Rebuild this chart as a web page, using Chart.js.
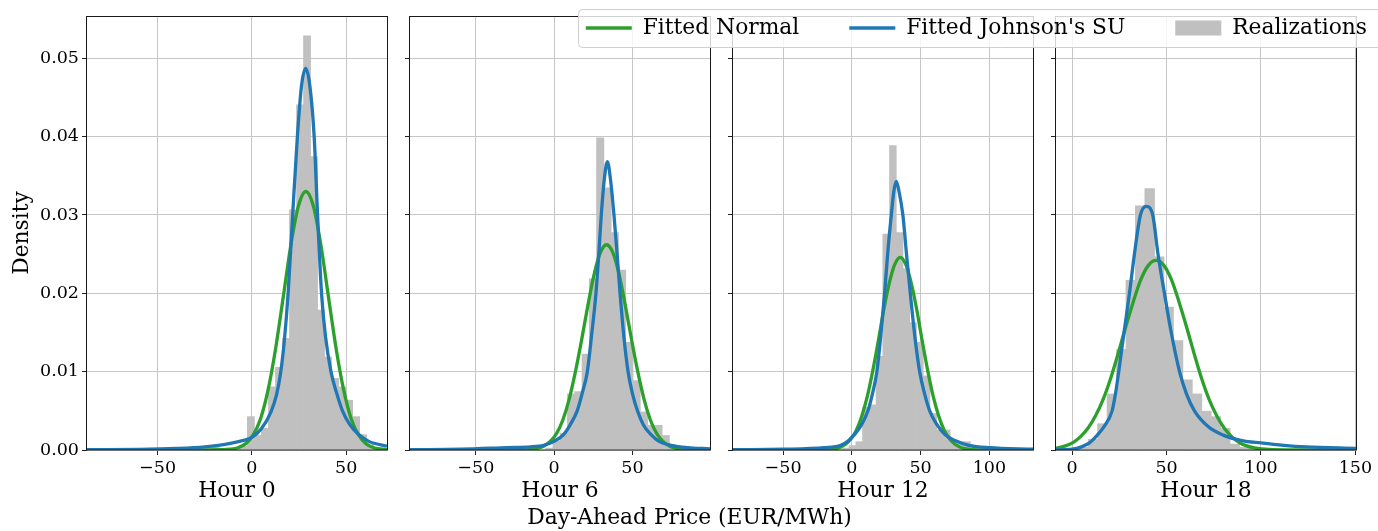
<!DOCTYPE html>
<html>
<head>
<meta charset="utf-8">
<script src="https://cdn.jsdelivr.net/npm/chart.js@4.4.1/dist/chart.umd.min.js"></script>
<style>
  html, body { margin: 0; padding: 0; background: #fff; }
  body { width: 1378px; height: 531px; position: relative; overflow: hidden; }
  canvas { position: absolute; top: 0; }
  #legendChart { pointer-events: none; }
</style>
</head>
<body>
<canvas id="hour0"></canvas>
<canvas id="hour6"></canvas>
<canvas id="hour12"></canvas>
<canvas id="hour18"></canvas>
<canvas id="legendChart"></canvas>
<script>
// histogram bins (centres) and densities
const h0BinX = [-19.14, -15.42, -11.70, -7.98, -4.26, -0.54, 3.18, 6.90, 10.62, 14.34, 18.06, 21.78, 25.50, 29.22, 32.94, 36.66, 40.38, 44.10, 47.82, 51.54, 55.26, 58.98, 62.70, 66.42];
const h0BinY = [0.0007, 0.0002, 0.0002, 0.0003, 0.0005, 0.0043, 0.0019, 0.0028, 0.0081, 0.0106, 0.0143, 0.0307, 0.0441, 0.0529, 0.0375, 0.0179, 0.0119, 0.0092, 0.0081, 0.0064, 0.0043, 0.0020, 0.0007, 0.0003];
const h6BinX = [-63.575, -3.125, 1.525, 6.175, 10.825, 15.475, 20.125, 24.775, 29.425, 34.075, 38.725, 43.375, 48.025, 52.675, 57.325, 61.975, 66.625, 71.275, 75.925];
const h6BinY = [0.0002, 0.0003, 0.0012, 0.0022, 0.0072, 0.0075, 0.0123, 0.0219, 0.0399, 0.0335, 0.0278, 0.0230, 0.0138, 0.0089, 0.0049, 0.0032, 0.0032, 0.0019, 0.0003];
const h12BinX = [-9.35, -4.45, 0.45, 5.35, 10.25, 15.15, 20.05, 24.95, 29.85, 34.75, 39.65, 44.55, 49.45, 54.35, 59.25, 64.15, 69.05, 73.95, 78.85, 83.75, 88.65];
const h12BinY = [0.0002, 0.0003, 0.0006, 0.0011, 0.0055, 0.0058, 0.0120, 0.0276, 0.0389, 0.0278, 0.0232, 0.0163, 0.0138, 0.0095, 0.0047, 0.0026, 0.0026, 0.0011, 0.0011, 0.0011, 0.0003];
const h18BinX = [1.1, 6.1, 11.1, 16.1, 21.1, 26.1, 31.1, 36.1, 41.1, 46.1, 51.1, 56.1, 61.1, 66.1, 71.1, 76.1, 81.1, 86.1, 91.1, 96.1, 101.1, 141.1];
const h18BinY = [0.0002, 0.0004, 0.0014, 0.0034, 0.0072, 0.0129, 0.0217, 0.0312, 0.0334, 0.0247, 0.0183, 0.0140, 0.0090, 0.0072, 0.0050, 0.0043, 0.0028, 0.0008, 0.0004, 0.0002, 0.0002, 0.0001];

// fitted normal curves
const h0NormX = [-87.4, -40, -15.4, -11.4, -7.4, -3.4, 0.6, 4.6, 8.6, 12.6, 16.6, 20.6, 24.6, 28.6, 32.6, 36.6, 40.6, 44.6, 48.6, 52.6, 56.6, 60.6, 64.6, 71.6];
const h0NormY = [0, 0, 0.00003, 0.0001, 0.00029, 0.00078, 0.0019, 0.0040, 0.0077, 0.0130, 0.0195, 0.0261, 0.0311, 0.0330, 0.0311, 0.0261, 0.0195, 0.0130, 0.0077, 0.0040, 0.0019, 0.00078, 0.00029, 0.00003];
const h6NormX = [-92, -40, -22.5, -14.5, -10.5, -6.5, -2.5, 1.5, 5.5, 9.5, 13.5, 17.5, 21.5, 25.5, 29.5, 33.5, 37.5, 41.5, 45.5, 49.5, 53.5, 57.5, 61.5, 65.5, 69.5, 73.5, 77.5, 81.5, 89.5, 99.5];
const h6NormY = [0, 0, 0.00001, 0.00009, 0.00023, 0.00052, 0.0011, 0.0021, 0.0038, 0.0064, 0.0099, 0.0140, 0.0184, 0.0224, 0.0252, 0.0262, 0.0252, 0.0224, 0.0184, 0.0140, 0.0099, 0.0064, 0.0038, 0.0021, 0.0011, 0.00052, 0.00023, 0.00009, 0.00001, 0];
const h12NormX = [-86.4, -40, -20.8, -12.8, -8.8, -4.8, -0.8, 3.2, 7.2, 11.2, 15.2, 19.2, 23.2, 27.2, 31.2, 35.2, 39.2, 43.2, 47.2, 51.2, 55.2, 59.2, 63.2, 67.2, 71.2, 75.2, 79.2, 83.2, 91.2, 105, 131.7];
const h12NormY = [0, 0, 0.00002, 0.00015, 0.00033, 0.0007, 0.0014, 0.0025, 0.0043, 0.0068, 0.0101, 0.0139, 0.0179, 0.0213, 0.0237, 0.0246, 0.0237, 0.0213, 0.0179, 0.0139, 0.0101, 0.0068, 0.0043, 0.0025, 0.0014, 0.0007, 0.00033, 0.00015, 0.00002, 0, 0];
const h18NormX = [-8.5, -3.5, 0.5, 4.5, 8.5, 12.5, 16.5, 20.5, 24.5, 28.5, 32.5, 36.5, 40.5, 44.5, 48.5, 52.5, 56.5, 60.5, 64.5, 68.5, 72.5, 76.5, 80.5, 84.5, 88.5, 92.5, 96.5, 100.5, 112.5, 150.3];
const h18NormY = [0.00022, 0.00052, 0.00095, 0.0017, 0.0028, 0.0044, 0.0065, 0.0092, 0.0124, 0.0158, 0.0190, 0.0218, 0.0236, 0.0242, 0.0236, 0.0218, 0.0190, 0.0158, 0.0124, 0.0092, 0.0065, 0.0044, 0.0028, 0.0017, 0.00095, 0.00052, 0.00026, 0.00013, 0.00001, 0];

// fitted Johnson's SU curves
const h0JsuX = [-87.4, -60, -40, -25, -15, -5, 0, 5, 10, 13, 15.3, 17.2, 19.2, 21.6, 24.1, 26.3, 28.5, 30.7, 33, 34.8, 36.9, 39, 41.9, 45, 48, 52, 56, 62, 71.6];
const h0JsuY = [0.00003, 0.00008, 0.0002, 0.0004, 0.0007, 0.0012, 0.0016, 0.0027, 0.0048, 0.0070, 0.0100, 0.0140, 0.0200, 0.0300, 0.0400, 0.0465, 0.0487, 0.0465, 0.0400, 0.0300, 0.0200, 0.0145, 0.0100, 0.0072, 0.0050, 0.0032, 0.0021, 0.0011, 0.0005];
const h6JsuX = [-92, -60, -30, -15, -6.7, 0, 6.2, 10.5, 14.7, 18, 21.2, 24, 26.7, 28.5, 30.1, 32, 34, 36, 38.2, 40.2, 42.1, 44.5, 47.2, 50, 53.2, 57, 61.7, 67, 74.6, 85, 99.5];
const h6JsuY = [0.00004, 0.0001, 0.0003, 0.0004, 0.0006, 0.0011, 0.0020, 0.0033, 0.0050, 0.0073, 0.0100, 0.0148, 0.0200, 0.0250, 0.0300, 0.0345, 0.0368, 0.0345, 0.0300, 0.0250, 0.0200, 0.0145, 0.0100, 0.0072, 0.0050, 0.0032, 0.0020, 0.0011, 0.0006, 0.0003, 0.00015];
const h12JsuX = [-86.4, -50, -20, -8, -3, 2, 7, 11.7, 15, 18.2, 21, 23.8, 26.5, 28.7, 30.5, 32.3, 34.3, 37.1, 40, 42.5, 46, 49.3, 53, 56.6, 62, 67.5, 75, 85, 100, 131.7];
const h12JsuY = [0.00005, 0.0001, 0.0003, 0.0006, 0.0011, 0.0020, 0.0032, 0.0050, 0.0072, 0.0100, 0.0145, 0.0200, 0.0260, 0.0300, 0.0330, 0.0343, 0.0330, 0.0300, 0.0245, 0.0200, 0.0142, 0.0100, 0.0071, 0.0050, 0.0032, 0.0020, 0.0012, 0.0006, 0.0003, 0.0001];
const h18JsuX = [-8.5, 0, 5, 9.2, 13, 17, 21.2, 23, 24.7, 27.5, 30.4, 33, 36.2, 39.2, 42.7, 45.5, 48.9, 52.5, 56.9, 60.5, 64.8, 72, 80, 90, 100, 112, 124, 150.3];
const h18JsuY = [0.00002, 0.0001, 0.0004, 0.0009, 0.0018, 0.0030, 0.0050, 0.0072, 0.0100, 0.0150, 0.0200, 0.0250, 0.0300, 0.0311, 0.0300, 0.0250, 0.0200, 0.0150, 0.0100, 0.0072, 0.0050, 0.0030, 0.0019, 0.0012, 0.0009, 0.0006, 0.0004, 0.0002];

const green = '#2ca02c';
const blue = '#1f77b4';
const barColor = '#c0c0c0';

Chart.defaults.font.family = "'DejaVu Serif', serif";
Chart.defaults.color = '#000';

const pts = (xs, ys) => xs.map((x, i) => ({ x: x, y: ys[i] }));

// desenha a moldura completa do eixo (estilo matplotlib)
const framePlugin = {
    id: 'frame',
    afterDraw(chart) {
        const { ctx, chartArea: a } = chart;
        ctx.save();
        ctx.strokeStyle = '#1a1a1a';
        ctx.lineWidth = 1;
        ctx.strokeRect(Math.round(a.left) - 0.5, Math.round(a.top) + 0.5, Math.round(a.width) + 1, Math.round(a.height) - 0.5);
        ctx.restore();
    }
};

// sem folga extra para os rótulos das pontas
const noEdgePadding = s => {
    s.paddingLeft = 0;
    s.paddingRight = 0;
    s.paddingTop = 0;
    s.paddingBottom = 0;
};

function renderPanel(id, chartLeft, yWidth, xMin, xMax, title, binX, binY, normX, normY, jsuX, jsuY, showY) {
    const rightRoom = 22;
    const canvas = document.getElementById(id);
    canvas.width = yWidth + 300 + rightRoom;
    canvas.height = 531;
    canvas.style.left = (chartLeft - yWidth) + 'px';

    new Chart(canvas, {
        type: 'bar',
        data: {
            datasets: [
                { type: 'line', label: "Fitted Johnson's SU", data: pts(jsuX, jsuY), borderColor: blue, borderWidth: 3.3, pointRadius: 0, fill: false, cubicInterpolationMode: 'monotone', order: 0 },
                { type: 'line', label: 'Fitted Normal', data: pts(normX, normY), borderColor: green, borderWidth: 3.3, pointRadius: 0, fill: false, cubicInterpolationMode: 'monotone', order: 1 },
                { type: 'bar', label: 'Realizations', data: pts(binX, binY), backgroundColor: barColor, borderWidth: 0, barPercentage: 1.1, categoryPercentage: 1, order: 2 }
            ]
        },
        options: {
            responsive: false,
            animation: false,
            layout: { padding: { top: 16, right: rightRoom, bottom: 0, left: 0 } },
            scales: {
                x: {
                    type: 'linear', min: xMin, max: xMax, offset: false,
                    afterFit: s => { s.height = 81; noEdgePadding(s); },
                    grid: { color: '#c6c6c6', lineWidth: 1, tickLength: 5, tickColor: '#222', offset: false },
                    border: { display: false },
                    ticks: {
                        stepSize: 50, includeBounds: false, autoSkip: false, maxRotation: 0, padding: 3,
                        font: { size: 17.5 }, color: '#000',
                        callback: v => String(v).replace('-', '\u2212')
                    },
                    title: { display: true, text: title, font: { size: 21.8 }, color: '#000', padding: { top: 0, bottom: 27 } }
                },
                y: {
                    min: 0, max: 0.0554,
                    afterFit: s => { s.width = yWidth; noEdgePadding(s); },
                    grid: { color: '#c6c6c6', lineWidth: 1, tickLength: 5, tickColor: '#222' },
                    border: { display: false },
                    ticks: {
                        display: showY, stepSize: 0.01, includeBounds: false, padding: 3,
                        font: { size: 17.5 }, color: '#000',
                        callback: v => v.toFixed(2)
                    },
                    title: { display: showY, text: 'Density', font: { size: 21.8 }, color: '#000', padding: { top: 9, bottom: 0 } }
                }
            },
            plugins: { legend: { display: false }, tooltip: { enabled: false } }
        },
        plugins: [framePlugin]
    });
}

renderPanel('hour0', 87, 87, -87.4, 71.6, 'Hour 0', h0BinX, h0BinY, h0NormX, h0NormY, h0JsuX, h0JsuY, true);
renderPanel('hour6', 410, 6, -92, 99.5, 'Hour 6', h6BinX, h6BinY, h6NormX, h6NormY, h6JsuX, h6JsuY, false);
renderPanel('hour12', 733, 6, -86.4, 131.7, 'Hour 12', h12BinX, h12BinY, h12NormX, h12NormY, h12JsuX, h12JsuY, false);
renderPanel('hour18', 1056, 6, -8.5, 150.3, 'Hour 18', h18BinX, h18BinY, h18NormX, h18NormY, h18JsuX, h18JsuY, false);

// caixa branca da legenda, atrás dos itens
const legendFrame = {
    id: 'legendFrame',
    beforeDraw(chart) {
        const boxes = chart.legend.legendHitBoxes;
        if (!boxes || !boxes.length) return;
        const { ctx } = chart;
        const first = boxes[0];
        const cy = first.top + first.height / 2;
        ctx.save();
        ctx.fillStyle = 'rgba(255, 255, 255, 0.8)';
        ctx.strokeStyle = '#d0d0d0';
        ctx.lineWidth = 1;
        ctx.beginPath();
        ctx.roundRect(Math.round(first.left) - 7.5, Math.round(cy) - 18.5, chart.width, 38, 4);
        ctx.fill();
        ctx.stroke();
        ctx.restore();
    }
};

// legenda e rótulo comum do eixo x, num gráfico sobreposto
const legendCanvas = document.getElementById('legendChart');
legendCanvas.width = 1455;
legendCanvas.height = 531;
legendCanvas.style.left = '-38px';

new Chart(legendCanvas, {
    type: 'line',
    data: {
        datasets: [
            { type: 'line', label: 'Fitted Normal', data: [], borderColor: green, backgroundColor: green, borderWidth: 3.3 },
            { type: 'line', label: "Fitted Johnson's SU", data: [], borderColor: blue, backgroundColor: blue, borderWidth: 3.3 },
            { type: 'bar', label: 'Realizations', data: [], backgroundColor: barColor, borderWidth: 0 }
        ]
    },
    options: {
        responsive: false,
        animation: false,
        layout: { padding: { top: -32.9, right: 0, bottom: 0, left: 0 } },
        scales: { x: { display: false }, y: { display: false } },
        plugins: {
            legend: {
                position: 'top',
                align: 'end',
                labels: {
                    usePointStyle: true,
                    pointStyleWidth: 46,
                    boxHeight: 15,
                    padding: 50,
                    font: { size: 21.8 },
                    color: '#000',
                    generateLabels: chart => chart.data.datasets.map((ds, i) => ({
                        text: ds.label,
                        fillStyle: ds.backgroundColor,
                        strokeStyle: ds.type === 'line' ? ds.borderColor : ds.backgroundColor,
                        lineWidth: ds.type === 'line' ? 3.3 : 0,
                        pointStyle: ds.type === 'line' ? 'line' : 'rect',
                        hidden: false,
                        datasetIndex: i,
                        fontColor: '#000'
                    }))
                }
            },
            title: {
                display: true,
                position: 'bottom',
                text: 'Day-Ahead Price (EUR/MWh)',
                font: { size: 21.8, weight: 'normal' },
                color: '#000',
                padding: 0
            },
            tooltip: { enabled: false }
        }
    },
    plugins: [legendFrame]
});
</script>
</body>
</html>
